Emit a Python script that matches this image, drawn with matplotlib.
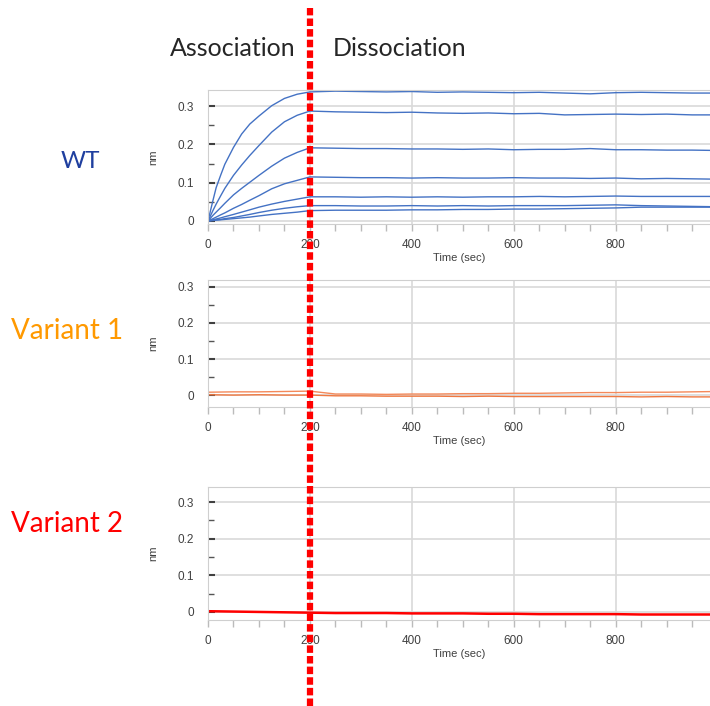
import numpy as np
import matplotlib.pyplot as plt
from matplotlib.lines import Line2D
from matplotlib.ticker import MultipleLocator

# association phase (0-175 s) and dissociation phase (200-1000 s), WT curves in nm
t_asso = [0, 10, 16, 25, 33, 50, 66, 82, 100, 125, 150, 175]
t_diss = [200, 250, 300, 350, 400, 450, 500, 550, 600, 650, 700, 750, 800, 850, 900, 950, 1000]

wt_asso = [
    [0, 0.055, 0.087, 0.120, 0.148, 0.192, 0.227, 0.253, 0.274, 0.301, 0.320, 0.331],
    [0, 0.028, 0.044, 0.066, 0.085, 0.119, 0.146, 0.171, 0.197, 0.232, 0.259, 0.276],
    [0, 0.015, 0.023, 0.035, 0.046, 0.068, 0.085, 0.101, 0.119, 0.143, 0.164, 0.179],
    [0, 0.006, 0.010, 0.016, 0.021, 0.033, 0.043, 0.054, 0.066, 0.084, 0.097, 0.106],
    [0, 0.003, 0.005, 0.008, 0.011, 0.017, 0.023, 0.029, 0.036, 0.044, 0.051, 0.057],
    [0, 0.002, 0.003, 0.004, 0.006, 0.009, 0.013, 0.017, 0.022, 0.028, 0.033, 0.037],
    [0, 0.001, 0.002, 0.003, 0.004, 0.006, 0.008, 0.010, 0.013, 0.017, 0.020, 0.023],
]
wt_diss = [
    [0.337, 0.339, 0.338, 0.337, 0.338, 0.336, 0.337, 0.336, 0.335, 0.336, 0.334, 0.332, 0.335, 0.336, 0.335, 0.334, 0.334],
    [0.287, 0.285, 0.284, 0.283, 0.284, 0.282, 0.281, 0.282, 0.280, 0.281, 0.277, 0.278, 0.279, 0.278, 0.279, 0.277, 0.277],
    [0.191, 0.190, 0.189, 0.189, 0.188, 0.188, 0.187, 0.188, 0.186, 0.187, 0.187, 0.189, 0.186, 0.186, 0.185, 0.185, 0.184],
    [0.115, 0.114, 0.113, 0.113, 0.112, 0.113, 0.112, 0.112, 0.113, 0.112, 0.112, 0.111, 0.112, 0.110, 0.111, 0.110, 0.109],
    [0.063, 0.063, 0.062, 0.063, 0.062, 0.063, 0.062, 0.063, 0.063, 0.064, 0.063, 0.064, 0.065, 0.064, 0.064, 0.064, 0.064],
    [0.040, 0.040, 0.039, 0.039, 0.040, 0.039, 0.040, 0.039, 0.040, 0.040, 0.040, 0.041, 0.042, 0.040, 0.039, 0.038, 0.037],
    [0.027, 0.028, 0.028, 0.028, 0.029, 0.029, 0.030, 0.030, 0.031, 0.031, 0.032, 0.033, 0.034, 0.036, 0.036, 0.036, 0.036],
]

# variants, every 50 s from 0 to 1000
t_var = list(range(0, 1001, 50))
var1_a = [0.008, 0.009, 0.009, 0.010, 0.011, 0.003, 0.003, 0.002, 0.003, 0.003, 0.004,
          0.004, 0.005, 0.005, 0.006, 0.007, 0.007, 0.008, 0.008, 0.009, 0.010]
var1_b = [0.001, 0.000, 0.001, 0.000, 0.000, -0.002, -0.002, -0.003, -0.003, -0.003, -0.004,
          -0.003, -0.004, -0.004, -0.004, -0.004, -0.004, -0.005, -0.004, -0.005, -0.005]
var2 = [0.002, 0.001, 0.000, -0.001, -0.002, -0.003, -0.003, -0.003, -0.004, -0.004, -0.004,
        -0.005, -0.005, -0.006, -0.006, -0.006, -0.006, -0.007, -0.007, -0.007, -0.007]

plt.rcParams['font.family'] = ['Liberation Sans', 'DejaVu Sans']

fig = plt.figure(figsize=(7.1, 7.06), dpi=100)

W, H = 710.0, 706.0
# (top px, bottom px, ylim)
panels = [(90, 224, (-0.008, 0.342)),
          (280, 407, (-0.033, 0.319)),
          (487, 620, (-0.022, 0.341))]
axes = []
for top, bot, ylim in panels:
    ax = fig.add_axes([208 / W, 1 - bot / H, (W - 208) / W, (bot - top) / H])
    ax.set_xlim(0, 985)
    ax.set_ylim(*ylim)
    ax.xaxis.set_major_locator(MultipleLocator(200))
    ax.xaxis.set_minor_locator(MultipleLocator(50))
    ax.yaxis.set_major_locator(MultipleLocator(0.1))
    ax.yaxis.set_minor_locator(MultipleLocator(0.05))
    ax.set_yticks([0, 0.1, 0.2, 0.3])
    ax.set_yticklabels(['0', '0.1', '0.2', '0.3'])
    ax.grid(True, which='major', color='#d9d9d9', lw=1.2)
    ax.set_axisbelow(True)
    for s in ax.spines.values():
        s.set_color('#cfcfcf')
    ax.spines['right'].set_visible(False)
    ax.tick_params(axis='y', which='major', direction='in', length=5, width=1.5,
                   color='#404040', labelsize=8.5, labelcolor='#404040', pad=10)
    ax.tick_params(axis='y', which='minor', direction='in', length=4, width=1,
                   color='#555555')
    ax.tick_params(axis='x', which='both', direction='out', length=5, width=1,
                   color='#bbbbbb', labelsize=8.5, labelcolor='#404040', pad=6)
    ax.set_xlabel('Time (sec)', fontsize=8, color='#404040', labelpad=1)
    ax.set_ylabel('nm', fontsize=8, color='#404040', labelpad=14)
    axes.append(ax)

# WT
for a, d in zip(wt_asso, wt_diss):
    axes[0].plot(t_asso + t_diss, a + d, color='#4472C4', lw=1.0)

# Variant 1
axes[1].plot(t_var, var1_a, color='#F4895A', lw=1.0)
axes[1].plot(t_var, var1_b, color='#F07840', lw=1.0)

# Variant 2
axes[2].plot(t_var, var2, color='#FF0000', lw=1.8)

# side labels
lab_font = ['Lato', 'DejaVu Sans']
fig.text(80 / W, 1 - 162 / H, 'WT', color='#1F3F9F', fontsize=17.5,
         ha='center', va='center', family=lab_font)
fig.text(67 / W, 1 - 331 / H, 'Variant 1', color='#FF9900', fontsize=20,
         ha='center', va='center', family=lab_font)
fig.text(67 / W, 1 - 524 / H, 'Variant 2', color='#FF0000', fontsize=20,
         ha='center', va='center', family=lab_font)

fig.text(233 / W, 1 - 48 / H, 'Association', color='#262626', fontsize=18,
         ha='center', va='center', family=lab_font)
fig.text(400 / W, 1 - 48 / H, 'Dissociation', color='#262626', fontsize=18,
         ha='center', va='center', family=lab_font)

# red dotted divider at t = 200 across the whole figure
xdiv = 310 / W
fig.add_artist(Line2D([xdiv, xdiv], [0, 1 - 8 / H], transform=fig.transFigure,
                      color='#FF0000', lw=4.5, dashes=(1.2, 0.5), zorder=10,
                      solid_capstyle='butt', dash_capstyle='butt'))

fig.savefig('out.png', dpi=100)
